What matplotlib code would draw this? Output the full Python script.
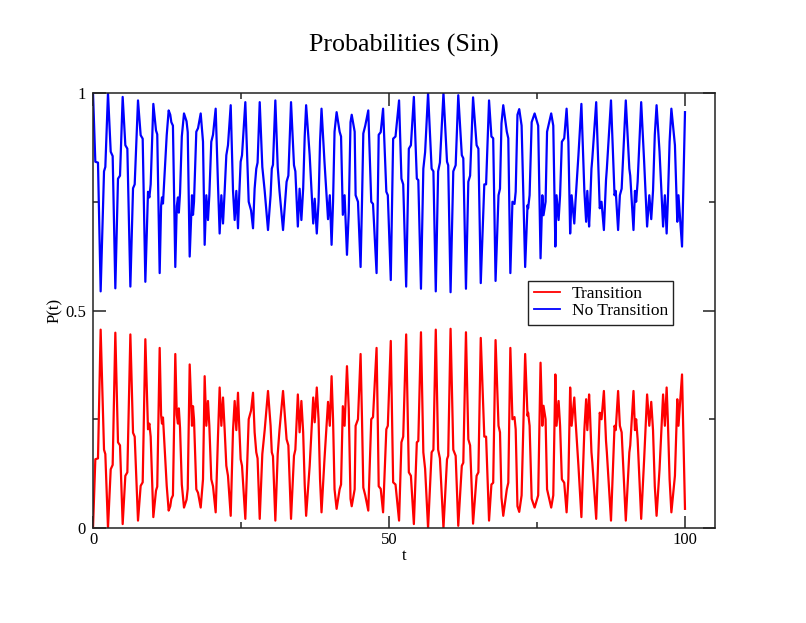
import numpy as np
import matplotlib
matplotlib.use("Agg")
from matplotlib import pyplot as plt
from matplotlib.ticker import FixedLocator

plt.rcParams['font.family'] = ['Liberation Serif', 'DejaVu Serif']

# transition probability, cycle by cycle (t, P)
t_pts = [
    0.0, 0.39, 0.84, 1.29, 1.86, 2.08, 2.53,
    2.99, 3.32, 3.77, 4.22, 4.56, 5.01,
    5.46, 5.80, 6.31, 6.76, 7.04, 7.60,
    8.05, 8.39, 8.84, 9.29, 9.52, 9.74, 10.19,
    10.64, 10.85, 11.26, 11.50, 11.65, 11.82, 12.45, 12.78,
    13.05, 13.23, 13.50, 13.90, 14.15, 14.35, 14.50, 14.70, 15.00, 15.37,
    15.80, 16.00, 16.33, 16.72, 16.89, 17.06, 17.45, 17.74, 18.19,
    18.58, 18.86, 19.14, 19.42, 19.65, 19.98, 20.27, 20.72,
    21.11, 21.39, 21.68, 21.96, 22.24, 22.52, 22.80, 23.26,
    23.65, 23.93, 24.21, 24.49, 24.70, 24.94, 25.17, 25.73,
    26.30, 26.70, 27.03, 27.30, 27.58, 27.80, 28.16,
    28.60, 29.00, 29.56, 30.00, 30.20, 30.40, 30.80,
    31.20, 31.50, 32.10, 32.40, 32.70, 33.00, 33.45,
    33.95, 34.18, 34.60, 34.90, 35.20, 35.50, 35.76, 36.00,
    36.60, 37.20, 37.45, 37.80, 38.10, 38.35, 38.60,
    39.10, 39.70, 40.00, 40.30, 40.55, 40.80, 41.15,
    41.66, 41.90, 42.20, 42.50, 42.90, 43.20, 43.50, 43.70,
    44.20, 44.36, 44.76, 45.20, 45.44, 45.66, 45.99, 46.50,
    47.00, 47.30, 47.90, 48.10, 48.26, 48.60, 49.00,
    49.55, 49.80, 50.30, 50.70, 51.10, 51.70,
    52.10, 52.40, 52.90, 53.35, 53.70, 54.20,
    54.70, 54.95, 55.40, 55.80, 56.10, 56.60,
    57.20, 57.50, 57.90, 58.30, 58.60, 59.20,
    59.80, 60.00, 60.40, 60.86, 61.26, 61.70,
    62.30, 62.55, 63.00, 63.40, 63.70, 64.20,
    64.80, 65.10, 65.50, 66.10, 66.40, 66.90,
    67.30, 67.60, 68.00, 68.50, 68.75, 69.00, 69.30,
    69.90, 70.15, 70.50, 70.85, 71.20, 71.40, 71.70, 72.00,
    72.40, 73.00, 73.40, 73.50, 73.75, 74.10, 74.60,
    75.20, 75.60, 75.90, 76.10, 76.45, 76.70, 77.40,
    77.75, 78.10, 78.30, 78.65, 78.90, 79.20, 79.60, 80.00,
    80.30, 80.60, 80.85, 81.30, 81.50, 82.00, 82.50,
    83.00, 83.30, 83.50, 83.80, 83.95, 84.20, 84.35, 85.00,
    85.60, 85.90, 86.30, 86.66, 86.80, 87.50,
    88.10, 88.30, 88.70, 89.00, 89.30, 90.00,
    90.60, 90.75, 91.30, 91.55, 91.75, 92.00, 92.60,
    93.10, 93.60, 93.97, 94.30, 94.60, 94.90, 95.20,
    95.70, 96.30, 96.60, 96.90, 97.10, 97.40, 97.70,
    98.30, 98.70, 98.90, 99.50, 100.0,
]
p_trans = [
    0.0, 0.158, 0.16, 0.456, 0.18, 0.17, 0.0,
    0.135, 0.145, 0.449, 0.197, 0.19, 0.009,
    0.12, 0.128, 0.445, 0.219, 0.21, 0.017,
    0.097, 0.105, 0.434, 0.227, 0.24, 0.21, 0.025,
    0.086, 0.095, 0.414, 0.26, 0.24, 0.254, 0.097, 0.04,
    0.05, 0.067, 0.075, 0.40, 0.26, 0.24, 0.275, 0.23, 0.10, 0.047,
    0.065, 0.09, 0.376, 0.235, 0.28, 0.25, 0.089, 0.081, 0.047,
    0.112, 0.349, 0.235, 0.292, 0.235, 0.112, 0.096, 0.036,
    0.21, 0.323, 0.235, 0.30, 0.225, 0.143, 0.12, 0.028,
    0.225, 0.292, 0.225, 0.311, 0.235, 0.158, 0.143, 0.021,
    0.25, 0.27, 0.311, 0.22, 0.174, 0.16, 0.021,
    0.17, 0.225, 0.315, 0.235, 0.174, 0.165, 0.017,
    0.17, 0.225, 0.315, 0.258, 0.204, 0.19, 0.021,
    0.166, 0.18, 0.307, 0.22, 0.292, 0.22, 0.10, 0.028,
    0.143, 0.30, 0.243, 0.323, 0.25, 0.112, 0.036,
    0.158, 0.29, 0.235, 0.349, 0.25, 0.089, 0.044,
    0.089, 0.10, 0.28, 0.235, 0.372, 0.275, 0.067, 0.05,
    0.089, 0.235, 0.25, 0.40, 0.25, 0.093, 0.075, 0.04,
    0.25, 0.255, 0.414, 0.25, 0.096, 0.09, 0.036,
    0.227, 0.235, 0.43, 0.105, 0.10, 0.017,
    0.197, 0.21, 0.445, 0.128, 0.12, 0.009,
    0.197, 0.20, 0.45, 0.174, 0.136, 0.0,
    0.174, 0.18, 0.456, 0.18, 0.16, 0.0,
    0.158, 0.166, 0.458, 0.18, 0.166, 0.005,
    0.143, 0.15, 0.45, 0.204, 0.19, 0.01,
    0.12, 0.128, 0.437, 0.21, 0.21, 0.017,
    0.10, 0.104, 0.432, 0.235, 0.22, 0.07, 0.028,
    0.089, 0.104, 0.414, 0.25, 0.255, 0.227, 0.05, 0.037,
    0.075, 0.40, 0.258, 0.265, 0.235, 0.067, 0.047,
    0.075, 0.38, 0.235, 0.281, 0.25, 0.089, 0.047,
    0.075, 0.353, 0.235, 0.292, 0.235, 0.112, 0.104, 0.036,
    0.112, 0.323, 0.235, 0.30, 0.25, 0.143, 0.025,
    0.225, 0.296, 0.225, 0.307, 0.265, 0.174, 0.15, 0.021,
    0.265, 0.25, 0.315, 0.20, 0.174, 0.017,
    0.235, 0.225, 0.315, 0.235, 0.22, 0.017,
    0.174, 0.19, 0.315, 0.225, 0.25, 0.204, 0.021,
    0.158, 0.307, 0.235, 0.29, 0.225, 0.096, 0.028,
    0.135, 0.307, 0.235, 0.323, 0.25, 0.112, 0.036,
    0.12, 0.296, 0.235, 0.353, 0.044,
]

t_pts = np.array(t_pts)
p_trans = np.array(p_trans)
p_stay = 1.0 - p_trans

fig = plt.figure(figsize=(8.06, 6.23), dpi=100)
ax = fig.add_axes([0.1154, 0.1525, 0.7717, 0.6982])

ax.plot(t_pts, p_trans, color='#ff0000', lw=1.6, label='Transition',
        solid_joinstyle='round')
ax.plot(t_pts, p_stay, color='#0000ff', lw=1.6, label='No Transition',
        solid_joinstyle='round')

ax.set_xlim(0, 105.07)
ax.set_ylim(0, 1)

ax.xaxis.set_major_locator(FixedLocator([0, 50, 100]))
ax.xaxis.set_minor_locator(FixedLocator([25, 75]))
ax.yaxis.set_major_locator(FixedLocator([0, 0.5, 1]))
ax.yaxis.set_minor_locator(FixedLocator([0.25, 0.75]))
ax.set_xticklabels(['0', '50', '100'])
ax.set_yticklabels(['0', '0.5', '1'])

ax.tick_params(which='both', direction='in', top=True, right=True,
               width=1.1, color='#222222', labelsize=12)
ax.tick_params(which='major', length=9)
ax.tick_params(axis='x', which='major', pad=3)
ax.tick_params(axis='y', which='major', pad=5)
ax.tick_params(which='minor', length=4.5)
for s in ax.spines.values():
    s.set_linewidth(1.1)
    s.set_color('#222222')

ax.set_title('Probabilities (Sin)', fontsize=18.7, pad=29.5)
ax.set_xlabel('t', fontsize=12, labelpad=0)
ax.set_ylabel('P(t)', fontsize=12, labelpad=2)

leg = ax.legend(loc='upper left', bbox_to_anchor=(0.70, 0.568),
                borderaxespad=0, fontsize=12.5, fancybox=False,
                framealpha=1, edgecolor='#222222', handlelength=1.5,
                handletextpad=0.7, labelspacing=0.05, borderpad=0.3)
leg.get_frame().set_linewidth(1.0)
for h in leg.get_lines():
    h.set_linewidth(1.3)

fig.savefig('out.png', dpi=100)
